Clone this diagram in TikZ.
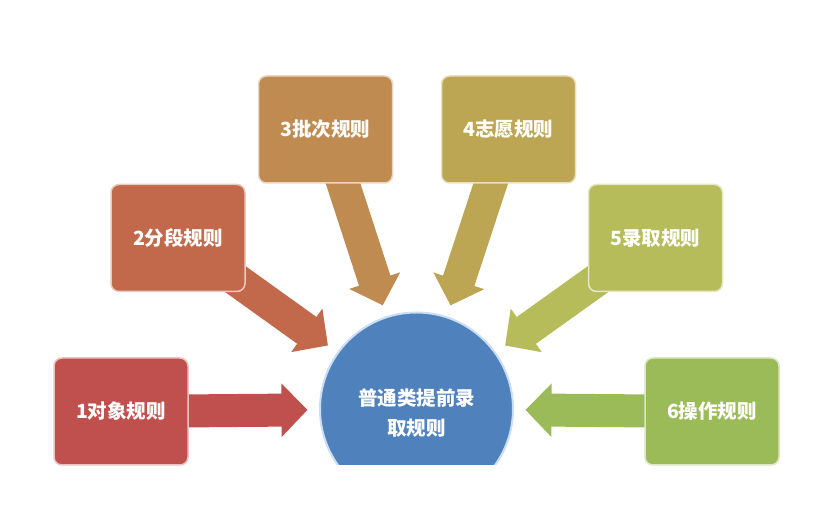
\documentclass[tikz,border=0pt]{standalone}
\usepackage{fontspec}
\newfontfamily\cjk{Noto Sans CJK SC}
\usetikzlibrary{arrows.meta,backgrounds}
\definecolor{c1}{HTML}{C0504D}
\definecolor{c2}{HTML}{C1694A}
\definecolor{c3}{HTML}{C08B50}
\definecolor{c4}{HTML}{BDA653}
\definecolor{c5}{HTML}{B5BC59}
\definecolor{c6}{HTML}{9BBB59}
\definecolor{cblue}{HTML}{4F81BD}
\definecolor{cring}{HTML}{C9DDF3}
\begin{document}
\begin{tikzpicture}[x=1pt,y=1pt,
  labeltext/.style={text=white, font=\cjk\bfseries\fontsize{19.5}{30}\selectfont},
  rulebox/.style={rectangle, rounded corners=8pt, minimum width=134pt, minimum height=107pt,
    line width=1.5pt, inner sep=0pt, labeltext},
  fatarrow/.style={line width=33pt, -{Triangle[width=52pt,length=26pt]}, shorten >=11.5pt}
]
\useasboundingbox (0,0) rectangle (833,518);
\begin{scope}
  \clip (0,53) rectangle (833,518);
  \node[circle, fill=cblue, draw=cring, line width=2pt, minimum size=193pt, inner sep=0pt] (c) at (416.5,109) {};
\end{scope}
\node[labeltext, align=center] (ct) at (416.5,105) {普通类提前录\\取规则};
\node[rulebox, fill=c1, draw=c1!35!white] (b1) at (121,106.5) {1对象规则};
\node[rulebox, fill=c2, draw=c2!35!white] (b2) at (178,280) {2分段规则};
\node[rulebox, fill=c3, draw=c3!35!white] (b3) at (325.5,388.5) {3批次规则};
\node[rulebox, fill=c4, draw=c4!35!white] (b4) at (508.5,388.5) {4志愿规则};
\node[rulebox, fill=c5, draw=c5!35!white] (b5) at (655.5,280) {5录取规则};
\node[rulebox, fill=c6, draw=c6!35!white] (b6) at (712,106.5) {6操作规则};
\begin{scope}[on background layer]
  \draw[fatarrow, c1] (b1.center) -- (c);
  \draw[fatarrow, c2] (b2.center) -- (c);
  \draw[fatarrow, c3] (b3.center) -- (c);
  \draw[fatarrow, c4] (b4.center) -- (c);
  \draw[fatarrow, c5] (b5.center) -- (c);
  \draw[fatarrow, c6] (b6.center) -- (c);
\end{scope}
\end{tikzpicture}
\end{document}
